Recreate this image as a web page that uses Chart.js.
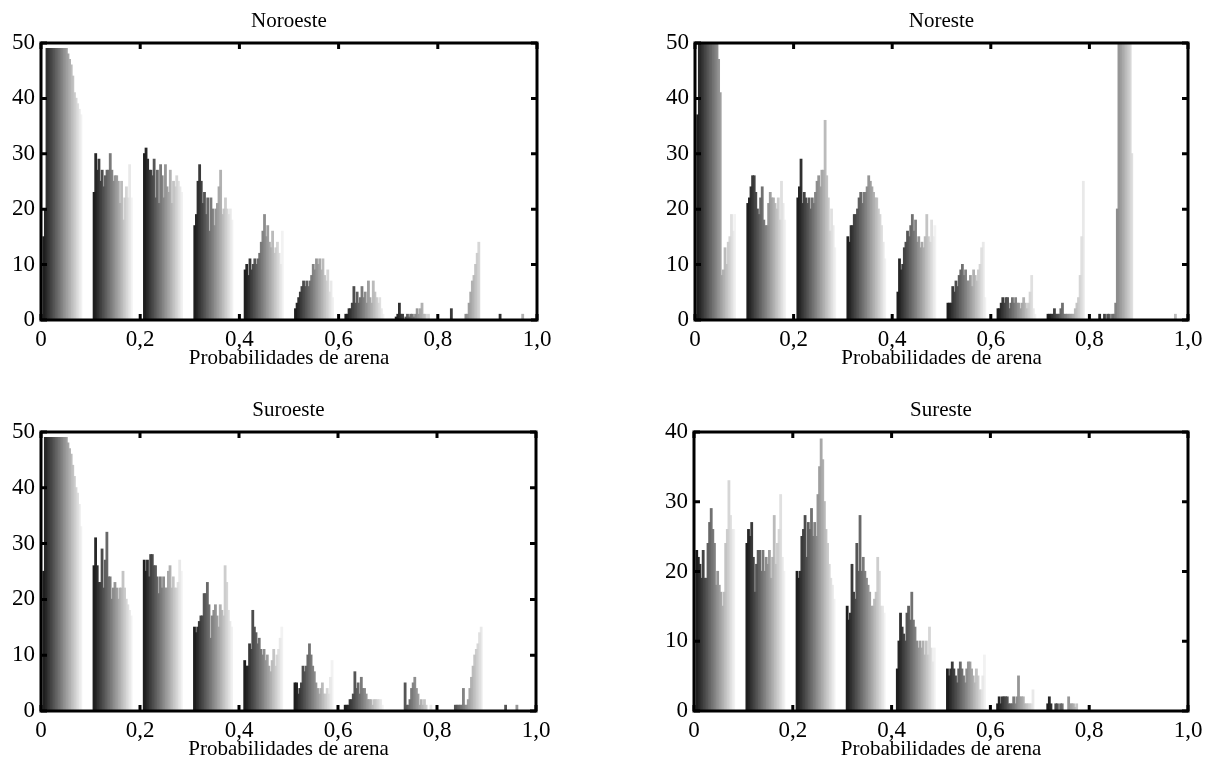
<!DOCTYPE html>
<html lang="es">
<head>
<meta charset="utf-8">
<title>Probabilidades de arena</title>
<script src="https://cdn.jsdelivr.net/npm/chart.js@4.4.1/dist/chart.umd.min.js"></script>
<style>
  html, body { margin: 0; padding: 0; background: #fff; overflow: hidden; }
  #wrap { position: relative; width: 1206px; height: 765px; overflow: hidden; }
  #wrap canvas { position: absolute; }
</style>
</head>
<body>
<div id="wrap">
  <canvas id="noroeste" width="561" height="372" style="left:0px;top:0px"></canvas>
  <canvas id="noreste" width="558" height="372" style="left:654px;top:0px"></canvas>
  <canvas id="suroeste" width="560" height="374" style="left:0px;top:389px"></canvas>
  <canvas id="sureste" width="559" height="374" style="left:653px;top:389px"></canvas>
</div>
<script>
'use strict';

// Centros de los 10 grupos (clases de probabilidad) y etiquetas del eje x
const groupCenters = [0.043, 0.1445, 0.246, 0.3475, 0.449, 0.5505, 0.652, 0.7535, 0.855, 0.9565];
const xTickLabels = ['0', '0,2', '0,4', '0,6', '0,8', '1,0'];

// Una fila por grupo, 24 series (de oscuro a claro) por fila
const noroeste = [
  [15, 20, 49, 49, 49, 49, 49, 49, 49, 49, 49, 49, 49, 49, 49, 48, 47, 46, 44, 41, 40, 39, 38, 37],
  [23, 30, 27, 29, 25, 27, 24, 26, 27, 27, 30, 27, 25, 26, 26, 25, 21, 25, 18, 22, 24, 22, 28, 22],
  [30, 31, 29, 27, 27, 26, 29, 22, 27, 21, 28, 26, 22, 28, 24, 23, 27, 21, 25, 24, 26, 25, 24, 23],
  [17, 19, 25, 28, 25, 21, 23, 19, 22, 16, 22, 20, 17, 20, 21, 24, 27, 19, 20, 22, 20, 19, 20, 18],
  [9, 10, 8, 11, 9, 10, 11, 10, 11, 12, 14, 16, 19, 15, 17, 14, 13, 16, 12, 13, 14, 12, 10, 16],
  [2, 3, 4, 5, 6, 7, 6, 7, 6, 7, 8, 10, 9, 11, 10, 11, 9, 11, 8, 7, 9, 5, 7, 4],
  [1, 1, 2, 2, 3, 6, 3, 5, 3, 4, 6, 4, 5, 3, 7, 4, 3, 7, 5, 4, 3, 4, 2, 1],
  [0.5, 1, 3, 1, 1, 0, 0.5, 1, 0.5, 1, 1, 0.5, 1, 2, 1, 2, 3, 1, 1, 0, 1, 0, 0, 0],
  [0, 0, 0, 2, 0, 0, 0, 0, 0, 0, 0, 0, 1, 1, 3, 5, 7, 8, 10, 12, 14, 0, 0, 0],
  [0, 0, 1, 0, 0, 0, 0, 0, 0, 0, 0, 0, 0, 0, 0, 0, 1, 0, 0, 0, 0, 0, 0, 0]
];
const noreste = [
  [37, 60, 60, 60, 60, 60, 60, 60, 60, 60, 60, 60, 60, 47, 41, 8, 9, 13, 10, 14, 15, 19, 16, 19],
  [21, 22, 24, 26, 26, 23, 20, 19, 22, 24, 18, 17, 17, 21, 23, 22, 22, 21, 20, 22, 18, 25, 21, 18],
  [22, 24, 29, 21, 23, 22, 21, 22, 20, 22, 21, 23, 25, 26, 24, 27, 27, 36, 26, 22, 16, 20, 17, 13],
  [15, 14, 17, 17, 19, 19, 20, 22, 23, 21, 23, 23, 24, 26, 25, 24, 23, 22, 22, 20, 19, 17, 14, 11],
  [5, 11, 9, 10, 13, 14, 16, 15, 17, 19, 16, 18, 14, 15, 13, 14, 13, 15, 19, 15, 14, 18, 15, 17],
  [3, 3, 3, 6, 5, 7, 6, 8, 9, 10, 8, 9, 7, 7, 8, 6, 9, 8, 7, 9, 10, 13, 14, 4],
  [2, 2, 3, 4, 3, 4, 4, 2, 3, 4, 3, 4, 3, 3, 2, 3, 4, 3, 2, 3, 5, 8, 2, 1],
  [1, 1, 1, 1, 2, 1, 1, 1, 2, 3, 1, 1, 1, 1, 1, 1, 1, 2, 3, 4, 8, 15, 25, 0],
  [0, 1, 0, 0, 1, 0, 1, 1, 0, 1, 1, 3, 20, 60, 60, 60, 60, 60, 60, 60, 60, 30, 0, 0],
  [0, 0, 0, 0, 0, 0, 0, 0, 0, 0, 0, 0, 0, 0, 0, 0, 0, 1, 0, 0, 0, 0, 0, 0]
];
const suroeste = [
  [25, 49, 49, 49, 49, 49, 49, 49, 49, 49, 49, 49, 49, 49, 49, 48, 47, 46, 44, 42, 40, 39, 37, 33],
  [26, 31, 26, 23, 23, 29, 22, 27, 32, 24, 24, 20, 22, 23, 22, 20, 22, 22, 25, 22, 20, 19, 18, 17],
  [27, 25, 27, 24, 28, 28, 26, 26, 24, 21, 24, 22, 24, 22, 22, 25, 26, 22, 24, 22, 22, 23, 27, 25],
  [15, 14, 15, 16, 17, 17, 21, 21, 23, 19, 13, 17, 18, 19, 17, 15, 19, 18, 17, 26, 23, 18, 16, 15],
  [9, 8, 8, 12, 11, 18, 15, 14, 12, 13, 11, 10, 11, 9, 10, 8, 7, 9, 11, 8, 10, 11, 13, 15],
  [5, 5, 3, 4, 5, 8, 7, 8, 10, 12, 10, 8, 7, 5, 4, 3, 4, 5, 3, 3, 4, 3, 6, 9],
  [1, 1, 1, 2, 2, 3, 7, 4, 5, 3, 6, 4, 4, 3, 2, 2, 2, 1, 2, 2, 2, 2, 2, 1],
  [0, 0, 0, 0, 0, 0, 5, 1, 1, 2, 4, 5, 6, 4, 3, 1, 2, 1, 2, 1, 0, 0, 1, 0],
  [0, 0, 0, 0, 0, 0, 1, 1, 1, 1, 1, 4, 1, 1, 2, 4, 6, 8, 10, 11, 12, 14, 15, 0],
  [0, 0, 0, 0, 0, 0, 1, 0, 0, 0, 0, 0, 0, 1, 0, 0, 0, 0, 0, 0, 0, 0, 0, 0]
];
const sureste = [
  [23, 22, 21, 19, 23, 19, 19, 24, 27, 29, 26, 24, 18, 20, 18, 17, 15, 17, 24, 26, 33, 28, 26, 26],
  [24, 26, 25, 27, 22, 17, 21, 23, 23, 20, 23, 20, 22, 21, 23, 19, 22, 28, 21, 24, 26, 31, 22, 20],
  [20, 19, 20, 25, 26, 28, 22, 27, 26, 29, 25, 27, 25, 31, 35, 39, 36, 30, 26, 24, 21, 19, 18, 16],
  [15, 13, 14, 21, 17, 16, 24, 20, 28, 20, 22, 20, 19, 18, 17, 15, 15, 16, 17, 22, 20, 15, 15, 14],
  [6, 10, 14, 12, 11, 10, 14, 15, 13, 17, 13, 12, 10, 9, 10, 9, 10, 8, 10, 8, 12, 9, 7, 9],
  [6, 5, 6, 7, 6, 5, 4, 6, 7, 6, 5, 4, 6, 7, 7, 6, 5, 4, 6, 5, 3, 3, 5, 8],
  [1, 2, 1, 2, 2, 2, 2, 1, 1, 1, 2, 1, 2, 5, 2, 2, 2, 1, 1, 1, 1, 1, 3, 0],
  [1, 2, 1, 0, 0, 1, 1, 0, 1, 1, 0, 0, 0, 2, 1, 1, 1, 0.5, 1, 0, 0, 0, 0, 0],
  [0, 0, 0, 0, 0, 0, 0, 0, 0, 0, 0, 0, 0, 0, 0, 0, 0, 0, 0, 0, 0, 0, 0, 0],
  [0, 0, 0, 0, 0, 0, 0, 0, 0, 0, 0, 0, 0, 0, 0, 0, 0, 0, 0, 0, 0, 0, 0, 0]
];

const serif = "'Liberation Serif', 'Times New Roman', serif";

// escala de grises: serie 0 oscura, ultima casi blanca
function gris(i, n) {
  const v = Math.round(30 + (242 - 30) * i / (n - 1));
  return `rgb(${v}, ${v}, ${v})`;
}

// titulo centrado sobre el area del grafico, marco negro y marcas hacia dentro
const marcoPlugin = {
  id: 'marco',
  afterDatasetsDraw(chart, args, opts) {
    const { ctx, chartArea: a, scales: { x, y } } = chart;
    ctx.save();
    ctx.strokeStyle = '#000';
    ctx.lineWidth = 3;
    ctx.strokeRect(a.left, a.top, a.right - a.left, a.bottom - a.top);
    ctx.beginPath();
    x.ticks.forEach(t => {
      const px = x.getPixelForValue(t.value);
      ctx.moveTo(px, a.bottom); ctx.lineTo(px, a.bottom - 6);
      ctx.moveTo(px, a.top); ctx.lineTo(px, a.top + 6);
    });
    y.ticks.forEach(t => {
      const py = y.getPixelForValue(t.value);
      ctx.moveTo(a.left, py); ctx.lineTo(a.left + 6, py);
      ctx.moveTo(a.right, py); ctx.lineTo(a.right - 6, py);
    });
    ctx.stroke();

    ctx.fillStyle = '#000';
    ctx.font = '21px ' + serif;
    ctx.textAlign = 'center';
    ctx.textBaseline = 'alphabetic';
    ctx.fillText(opts.text, (a.left + a.right) / 2, a.top - 16);
    ctx.restore();
  }
};

function crearPanel(id, titulo, filas, yMax) {
  const nSeries = filas[0].length;
  const datasets = [];
  for (let i = 0; i < nSeries; i++) {
    datasets.push({
      label: 'serie ' + (i + 1),
      data: groupCenters.map((c, k) => ({ x: c, y: filas[k][i] })),
      backgroundColor: gris(i, nSeries),
      borderWidth: 0,
      categoryPercentage: 0.77,
      barPercentage: 1.0,
      inflateAmount: 0.6,
      clip: 0
    });
  }

  new Chart(document.getElementById(id), {
    type: 'bar',
    data: { datasets: datasets },
    options: {
      responsive: false,
      animation: false,
      layout: { padding: { left: 0, right: 24, top: 43, bottom: 0 } },
      scales: {
        x: {
          type: 'linear',
          offset: false,
          min: 0,
          max: 1,
          grid: { display: false, drawTicks: false },
          border: { display: false },
          ticks: {
            stepSize: 0.2,
            padding: 6,
            maxRotation: 0,
            autoSkip: false,
            color: '#000',
            font: { family: serif, size: 23 },
            callback: (v, i) => xTickLabels[i]
          },
          title: {
            display: true,
            text: 'Probabilidades de arena',
            color: '#000',
            font: { family: serif, size: 21 },
            padding: { top: 0, bottom: 1 }
          },
          afterFit: (scale) => { scale.height = 52; }
        },
        y: {
          min: 0,
          max: yMax,
          grid: { display: false, drawTicks: false },
          border: { display: false },
          ticks: {
            stepSize: 10,
            padding: 6,
            color: '#000',
            font: { family: serif, size: 23 }
          },
          afterFit: (scale) => { scale.width = 41; }
        }
      },
      plugins: {
        legend: { display: false },
        tooltip: { enabled: false },
        title: { display: false },
        marco: { text: titulo }
      }
    },
    plugins: [marcoPlugin]
  });
}

crearPanel('noroeste', 'Noroeste', noroeste, 50);
crearPanel('noreste', 'Noreste', noreste, 50);
crearPanel('suroeste', 'Suroeste', suroeste, 50);
crearPanel('sureste', 'Sureste', sureste, 40);
</script>
</body>
</html>
